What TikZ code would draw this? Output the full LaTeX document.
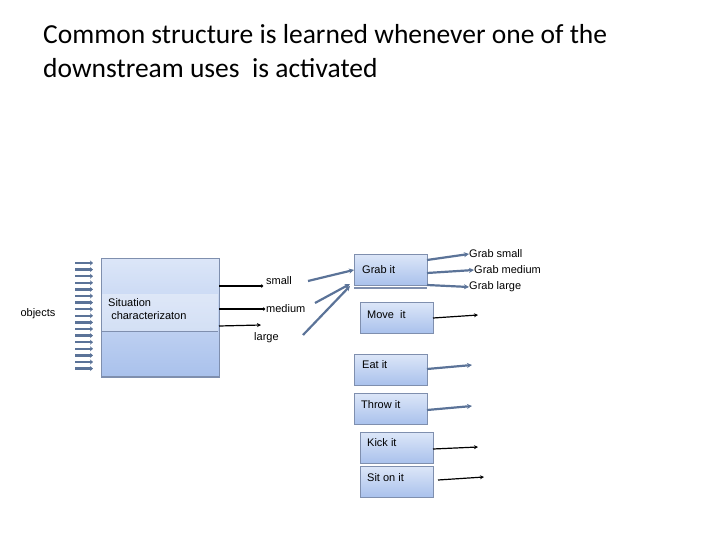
\documentclass[tikz,border=0pt]{standalone}
\usepackage{fontspec}
\setmainfont{Carlito}
\newfontfamily\lab{Liberation Sans}
\definecolor{bxa}{HTML}{DCE6F8}
\definecolor{bxb}{HTML}{A9C1EC}
\definecolor{bxl}{HTML}{7F8FAE}
\definecolor{arr}{HTML}{5B7398}
\tikzset{
 act/.style={draw=bxl,line width=0.8pt,top color=bxa,bottom color=bxb,minimum width=73pt,minimum height=31pt,anchor=north west,inner sep=0pt},
 txt/.style={font=\lab\fontsize{11pt}{13pt}\selectfont,inner sep=0pt},
 lbl/.style={font=\lab\fontsize{11pt}{13pt}\selectfont,inner sep=0pt,anchor=west},
 barr/.style={draw=arr,line width=2.2pt,-{Stealth[length=5pt,width=5pt]}},
 karr/.style={draw=black,line width=1.2pt,-{Stealth[length=4pt,width=4pt]}},
 kdot/.style={draw=black,line width=1.2pt,-{Circle[length=3pt]}},
}
\usetikzlibrary{arrows.meta}
\begin{document}
\begin{tikzpicture}[x=1pt,y=-1pt]
\useasboundingbox (0,0) rectangle (720,540);
\node[anchor=west,font=\fontsize{27.5pt}{30pt}\selectfont,inner sep=0pt] (t1) at (43,34) {Common structure is learned whenever one of the};
\node[anchor=west,font=\fontsize{27.5pt}{30pt}\selectfont,inner sep=0pt] (t2) at (43,68) {downstream uses\ \ is activated};
% situation box
\node[draw=bxl,line width=0.8pt,top color=bxa,bottom color=bxb,minimum width=118pt,minimum height=119pt,anchor=north west,inner sep=0pt] (sit) at (101,258) {};
\fill[white,opacity=0.35] (102,294) rectangle (218,331);
\draw[bxl,line width=0.6pt] (102,331) -- (218,331);
\draw[bxl,line width=1.5pt] (101,377) -- (219,377);
\node[txt,anchor=north west,align=left] (sittxt) at (108,298) {Situation\\\ characterizaton};
\node[txt] (obj) at (38,314) {objects};
\foreach \i in {0,...,16}{
  \coordinate (a\i) at (75,{263+6.6*\i});
  \coordinate (b\i) at (93,{263+6.6*\i});
  \draw[draw=arr,line width=2.4pt,-{Stealth[length=3pt,width=5pt]}] (a\i) -- (b\i);
}
% size outputs
\coordinate (s1) at (219,286); \coordinate (s2) at (219,309); \coordinate (s3) at (219,326);
\node[lbl] (small) at (266,281) {small};
\node[lbl] (medium) at (266,309) {medium};
\node[lbl] (large) at (254,338) {large};
\coordinate (e1) at (263,286); \coordinate (e2) at (265,309); \coordinate (e3) at (261,325);
\draw[kdot] (s1) -- (e1);
\draw[kdot] (s2) -- (e2);
\draw[karr] (s3) -- (e3);
% actions
\node[act] (grab) at (354,254) {}; \node[txt,anchor=west] at (362,270) {Grab it};
\draw[bxl,line width=1.5pt] (354,288) -- (427,288);
\node[act] (move) at (360,302) {}; \node[txt,anchor=west] at (367,315) {Move\ \ it};
\node[act] (eat) at (354,354) {}; \node[txt,anchor=west] at (362,365) {Eat it};
\node[act] (throw) at (354,393) {}; \node[txt,anchor=west] at (361,405) {Throw it};
\node[act] (kick) at (360,432) {}; \node[txt,anchor=west] at (367,443) {Kick it};
\node[act] (sit2) at (360,466) {}; \node[txt,anchor=west] at (367,478) {Sit on it};
% arrows into grab
\coordinate (g0) at (308,281); \coordinate (g1) at (315,303); \coordinate (g2) at (303,335);
\draw[barr] (g0) -- (grab.west);
\draw[barr] (g1) -- (350,284);
\draw[barr] (g2) -- (350,286);
% grab outputs
\node[lbl] (gs) at (469,254) {Grab small};
\node[lbl] (gm) at (474,270) {Grab medium};
\node[lbl] (gl) at (469,287) {Grab large};
\draw[barr] (427,260) -- (gs.west);
\draw[barr] (427,273) -- (gm.west);
\draw[barr] (427,285) -- (gl.west);
% other outputs
\coordinate (mo) at (478,315); \coordinate (eo) at (472,365); \coordinate (to) at (472,406);
\coordinate (ko) at (478,447); \coordinate (so) at (484,477);
\draw[karr] (433,318) -- (mo);
\draw[barr] (427,369) -- (eo);
\draw[barr] (427,410) -- (to);
\draw[karr] (433,449) -- (ko);
\draw[karr] (438,480) -- (so);
\end{tikzpicture}
\end{document}
